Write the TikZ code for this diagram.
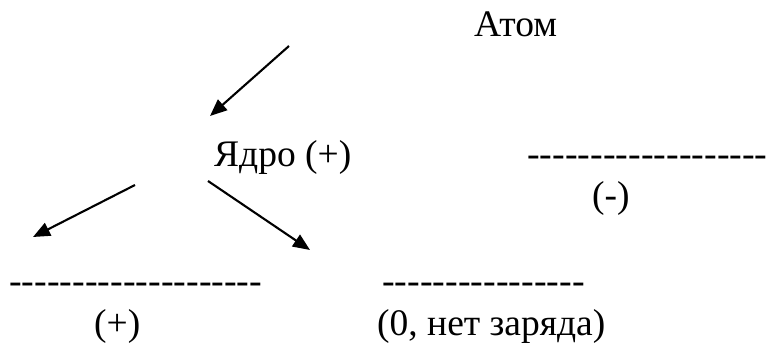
\documentclass[tikz,border=0pt]{standalone}
\usepackage{fontspec}
\setmainfont{Liberation Serif}
\newfontfamily\dashfont{Liberation Serif}[Ligatures=TeXOff]
\usetikzlibrary{arrows.meta}
\begin{document}
\begin{tikzpicture}[x=1pt,y=-1pt,
  lbl/.style={anchor=base west,inner sep=0pt,font=\fontsize{37.5}{40}\selectfont},
  dsh/.style={anchor=base west,inner sep=0pt,font=\dashfont\fontsize{38}{40}\selectfont},
  arr/.style={line width=2.1pt,-{Triangle[length=17pt,width=14pt]}}]
\useasboundingbox (0,0) rectangle (771,344);
\node[lbl] (atom) at (474,37) {Атом};
\node[lbl] (core) at (214,167) {Ядро (+)};
\node[dsh] (d3) at (527,167) {-------------------};
\node[lbl] (minus) at (592,208) {(-)};
\node[dsh] (d1) at (9,294) {--------------------};
\node[dsh] (d2) at (382,294) {----------------};
\node[lbl] (plus) at (94,336) {(+)};
\node[lbl] (zero) at (377,336) {(0, нет заряда)};
\coordinate (a1s) at (289,46);
\coordinate (a1e) at (210,116);
\coordinate (a2s) at (135,185);
\coordinate (a2e) at (33,237);
\coordinate (a3s) at (208,181);
\coordinate (a3e) at (310,250);
\draw[arr] (a1s) -- (a1e);
\draw[arr] (a2s) -- (a2e);
\draw[arr] (a3s) -- (a3e);
\end{tikzpicture}
\end{document}
